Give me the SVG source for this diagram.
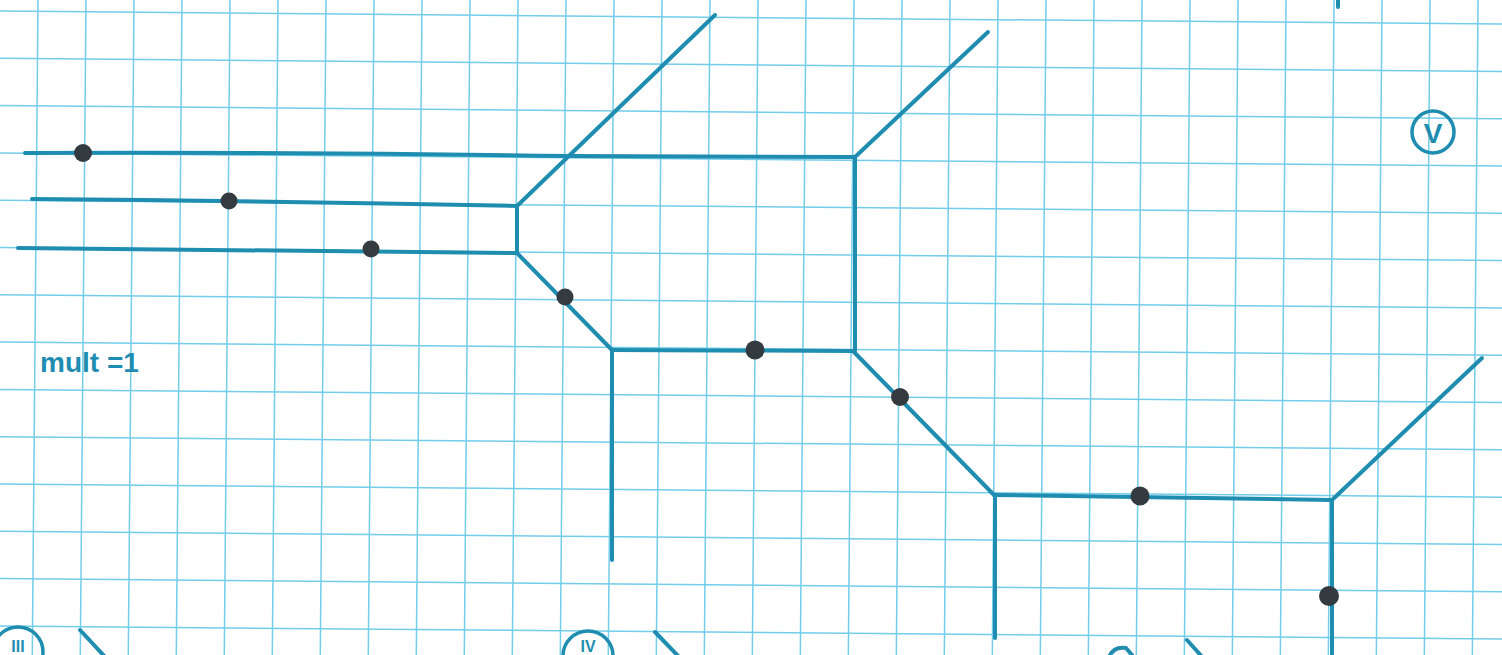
<svg xmlns="http://www.w3.org/2000/svg" width="1502" height="655" viewBox="0 0 1502 655">
<style>
.g{stroke:#72cdea;stroke-width:1.5;fill:none}
.p{stroke:#1f8db0;stroke-width:4;fill:none;stroke-linecap:round;stroke-linejoin:round}
.d{fill:#343b40}
.t{fill:#1f8db0;font-family:"Liberation Sans",sans-serif;font-weight:bold}
</style>
<rect width="1502" height="655" fill="#ffffff"/>
<g id="grid" transform="rotate(0.5)">
<path class="g" d="M-50 11H1560M-50 58.3H1560M-50 105.6H1560M-50 152.9H1560M-50 200.2H1560M-50 247.5H1560M-50 294.8H1560M-50 342.1H1560M-50 389.4H1560M-50 436.7H1560M-50 484H1560M-50 531.3H1560M-50 578.6H1560M-50 625.9H1560M-50 673.2H1560"/>
<path class="g" d="M38 -30V700M86 -30V700M134 -30V700M182 -30V700M230 -30V700M278 -30V700M326 -30V700M374 -30V700M422 -30V700M470 -30V700M518 -30V700M566 -30V700M614 -30V700M662 -30V700M710 -30V700M758 -30V700M806 -30V700M854 -30V700M902 -30V700M950 -30V700M998 -30V700M1046 -30V700M1094 -30V700M1142 -30V700M1190 -30V700M1238 -30V700M1286 -30V700M1334 -30V700M1382 -30V700M1430 -30V700M1478 -30V700M1526 -30V700"/>
</g>
<g id="connectors">
<path class="p" d="M25 153 Q300 152 570 156 L855 157"/>
<path class="p" d="M32 199 Q280 201 517 206"/>
<path class="p" d="M18 248 Q300 250 517 253"/>
<path class="p" d="M517 206 V253"/>
<path class="p" d="M517 206 L715 15"/>
<path class="p" d="M517 253 L612 350"/>
<path class="p" d="M612 350 L853 351"/>
<path class="p" d="M612 350 V560"/>
<path class="p" d="M855 157 V351"/>
<path class="p" d="M855 157 L988 32"/>
<path class="p" d="M853 351 L994 495"/>
<path class="p" d="M994 495 L1332 500"/>
<path class="p" d="M995 495 V638"/>
<path class="p" d="M1332 500 L1482 358"/>
<path class="p" d="M1332 500 V660"/>
<path class="p" d="M1338 0 V7"/>
<path class="p" d="M80 630 L108 660"/>
<path class="p" d="M655 632 L682 660"/>
<path class="p" d="M1187 640 L1205 660"/>
<path class="p" d="M1108 660 Q1112 646 1126 648 L1132 655"/>
</g>
<g id="n1"><circle class="d" cx="83" cy="153" r="9"/></g>
<g id="n2"><circle class="d" cx="229" cy="201" r="8.5"/></g>
<g id="n3"><circle class="d" cx="371" cy="249" r="8.5"/></g>
<g id="n4"><circle class="d" cx="565" cy="297" r="8.5"/></g>
<g id="n5"><circle class="d" cx="755" cy="350" r="9.5"/></g>
<g id="n6"><circle class="d" cx="900" cy="397" r="9"/></g>
<g id="n7"><circle class="d" cx="1140" cy="496" r="9.5"/></g>
<g id="n8"><circle class="d" cx="1329" cy="596" r="10"/></g>
<g id="labels">
<g id="label-v">
<circle cx="1433" cy="132" r="21" fill="none" stroke="#1f8db0" stroke-width="3.5"/>
<text class="t" x="1433" y="143" font-size="28" text-anchor="middle">V</text>
</g>
<text class="t" x="40" y="372" font-size="28">mult =1</text>
<g id="label-iii">
<circle cx="18" cy="652" r="25" fill="none" stroke="#1f8db0" stroke-width="3.5"/>
<text class="t" x="18" y="652" font-size="16" text-anchor="middle">III</text>
</g>
<g id="label-iv">
<circle cx="588" cy="656" r="25" fill="none" stroke="#1f8db0" stroke-width="3.5"/>
<text class="t" x="588" y="652" font-size="16" text-anchor="middle">IV</text>
</g>
</g>
</svg>
